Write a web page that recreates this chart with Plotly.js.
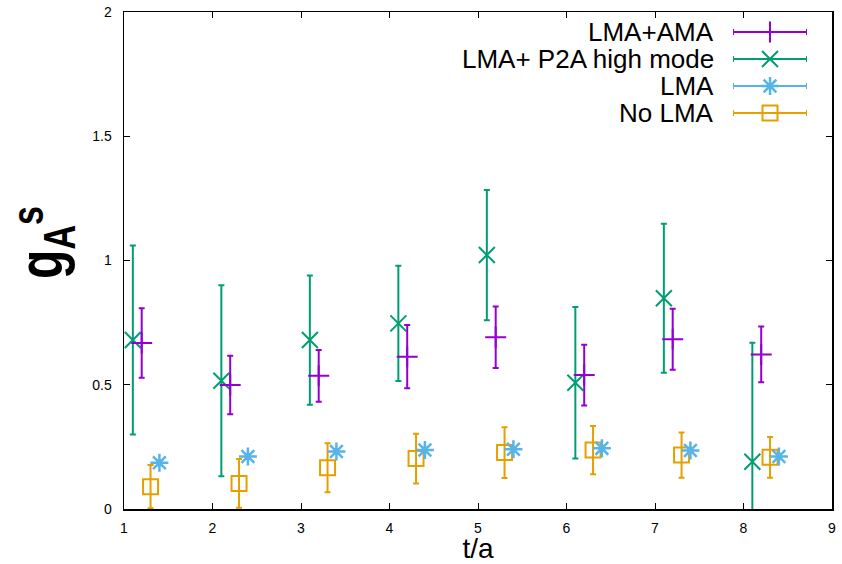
<!DOCTYPE html>
<html>
<head>
<meta charset="utf-8">
<script src="https://cdn.plot.ly/plotly-3.0.1.min.js"></script>
<style>
html,body{margin:0;padding:0;background:#fff;}
#wrap{position:relative;width:842px;height:564px;}
#chart{width:842px;height:564px;}
#ytitle{position:absolute;left:0;top:0;pointer-events:none;}
</style>
</head>
<body>
<div id="wrap">
<div id="chart"></div>
<svg id="ytitle" width="842" height="564" xmlns="http://www.w3.org/2000/svg">
  <text transform="matrix(0,-1,1.33,0,62,242.5)" text-anchor="middle" font-family="Liberation Sans, Arial, sans-serif" font-weight="bold" font-size="48" fill="#000"><tspan font-size="48">g</tspan><tspan font-size="34" dy="10">A</tspan><tspan font-size="34" dy="-24">s</tspan></text>
</svg>
</div>
<script>
// ---- data ----
const tValues = [1, 2, 3, 4, 5, 6, 7, 8];
const seriesNames = ["LMA+AMA", "LMA+ P2A high mode", "LMA", "No LMA"];
const lmaAmaVal = [0.668, 0.499, 0.536, 0.613, 0.691, 0.539, 0.683, 0.622];
const lmaAmaErr = [0.140, 0.118, 0.104, 0.127, 0.124, 0.122, 0.123, 0.112];
const p2aVal    = [0.680, 0.516, 0.680, 0.747, 1.022, 0.508, 0.848, 0.190];
const p2aErr    = [0.380, 0.384, 0.260, 0.232, 0.262, 0.305, 0.300, 0.479];
const lmaVal    = [0.186, 0.211, 0.231, 0.237, 0.240, 0.244, 0.235, 0.211];
const lmaErr    = [0.010, 0.010, 0.010, 0.010, 0.010, 0.010, 0.010, 0.010];
const noLmaVal  = [0.090, 0.103, 0.166, 0.203, 0.227, 0.237, 0.217, 0.208];
const noLmaErr  = [0.087, 0.098, 0.099, 0.100, 0.102, 0.097, 0.091, 0.082];
const xTicks = [1, 2, 3, 4, 5, 6, 7, 8, 9];
const yTicks = [0, 0.5, 1, 1.5, 2];
const xTitle = "t/a";

// ---- style ----
const colors = ["#9400D3", "#009E73", "#56B4E9", "#E69F00"];
const symbols = ["cross-thin-open", "x-thin-open", "asterisk-open", "square-open"];
const sizes = [15, 16, 15, 15];
const lineW = [2, 2, 2.5, 2];
const offsets = [0.2, 0.1, 0.4, 0.3];
const vals = [lmaAmaVal, p2aVal, lmaVal, noLmaVal];
const errs = [lmaAmaErr, p2aErr, lmaErr, noLmaErr];

const traces = [];
const drawOrder = [1, 0, 3, 2];
drawOrder.forEach(i => {
  traces.push({
    type: "scatter", mode: "markers", name: seriesNames[i], showlegend: false,
    x: tValues.map(t => t + offsets[i]), y: vals[i],
    error_y: {type: "data", array: errs[i], visible: true, color: colors[i], thickness: 2, width: 3},
    marker: {symbol: symbols[i], size: sizes[i], color: colors[i], line: {color: colors[i], width: lineW[i]}},
    cliponaxis: true
  });
});

// custom legend (text left, sample right, gnuplot style)
const legendRows = [4, 3, 2, 1];
const annotations = [];
seriesNames.forEach((n, i) => {
  traces.push({
    type: "scatter", mode: "markers", showlegend: false, hoverinfo: "skip",
    xaxis: "x2", yaxis: "y2",
    x: [0.5], y: [legendRows[i]],
    error_x: {type: "data", array: [0.5], visible: true, color: colors[i], thickness: 2, width: 3},
    marker: {symbol: symbols[i], size: sizes[i], color: colors[i], line: {color: colors[i], width: lineW[i]}}
  });
  annotations.push({
    xref: "paper", yref: "y2", x: 0.8362, y: legendRows[i], xanchor: "right", yanchor: "middle",
    text: n, showarrow: false, font: {family: "Liberation Sans, Arial, sans-serif", size: 26, color: "#000"}
  });
});

const layout = {
  width: 842, height: 564,
  margin: {l: 124, r: 10, t: 12, b: 55},
  paper_bgcolor: "#fff", plot_bgcolor: "#fff",
  font: {family: "Liberation Sans, Arial, sans-serif", color: "#000"},
  showlegend: false,
  xaxis: {
    range: [1, 9], tickvals: xTicks, ticktext: xTicks.map(String),
    ticks: "inside", ticklen: 6, tickwidth: 1, tickcolor: "#000",
    showline: true, linecolor: "#000", linewidth: 1.5, mirror: "ticks",
    showgrid: false, zeroline: false,
    tickfont: {size: 14, color: "#000"}, ticklabelstandoff: 6,
    title: {text: xTitle, font: {size: 28, color: "#000"}, standoff: 8}
  },
  yaxis: {
    range: [0, 2], tickvals: yTicks, ticktext: ["0", "0.5", "1", "1.5", "2"],
    ticks: "inside", ticklen: 6, tickwidth: 1, tickcolor: "#000",
    showline: true, linecolor: "#000", linewidth: 1.5, mirror: "ticks",
    showgrid: false, zeroline: false,
    tickfont: {size: 14, color: "#000"}, ticklabelstandoff: 8
  },
  xaxis2: {domain: [0.8602, 0.9647], range: [0, 1], visible: false, anchor: "y2", fixedrange: true},
  yaxis2: {domain: [0.7696, 0.9869], range: [0.5, 4.5], visible: false, anchor: "x2", fixedrange: true},
  annotations: annotations
};

Plotly.newPlot("chart", traces, layout, {displayModeBar: false, staticPlot: true});
</script>
</body>
</html>
